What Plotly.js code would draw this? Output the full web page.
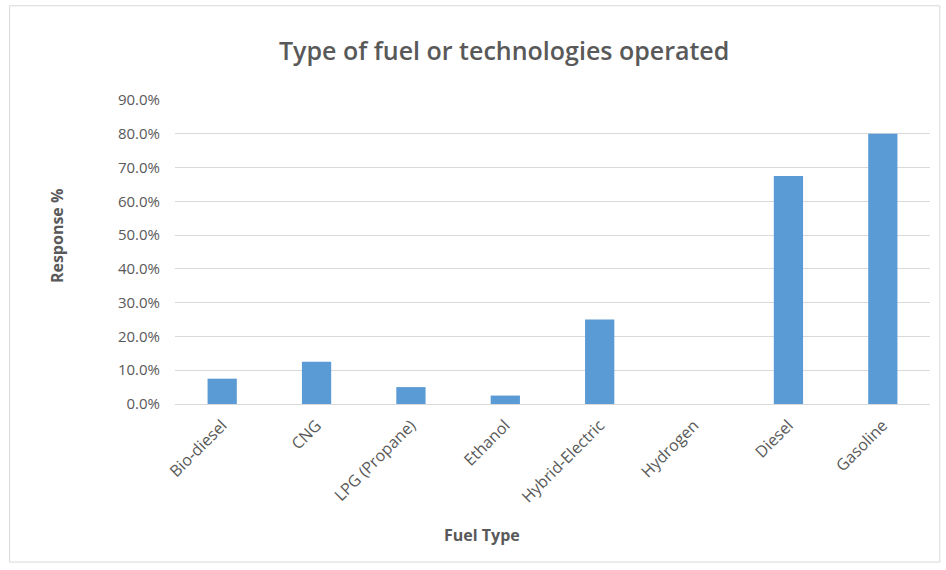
<!DOCTYPE html>
<html>
<head>
<meta charset="utf-8">
<script src="https://cdn.plot.ly/plotly-3.0.1.min.js"></script>
<style>html,body{margin:0;padding:0;background:#fff;}</style>
</head>
<body>
<div id="chart" style="width:946px;height:570px;"></div>
<script>
var categories = ["Bio-diesel", "CNG", "LPG (Propane)", "Ethanol", "Hybrid-Electric", "Hydrogen", "Diesel", "Gasoline"];
var responsePct = [7.5, 12.5, 5.0, 2.5, 25.0, 0.0, 67.5, 80.0];
var yTicks = [0, 10, 20, 30, 40, 50, 60, 70, 80, 90];
var yTickLabels = yTicks.map(function (v) { return v.toFixed(1) + "%"; });

var font = "Open Sans, Lato, sans-serif";
var grey = "#595959";

var data = [{
  type: "bar",
  x: categories,
  y: responsePct,
  marker: { color: "#5b9bd5" },
  hoverinfo: "x+y"
}];

var layout = {
  width: 946,
  height: 570,
  margin: { l: 175, r: 16, t: 100, b: 166 },
  paper_bgcolor: "#ffffff",
  plot_bgcolor: "#ffffff",
  bargap: 0.69,
  showlegend: false,
  font: { family: font, color: grey, size: 13 },
  xaxis: {
    type: "category",
    tickangle: -45,
    tickfont: { family: font, size: 16, color: grey },
    ticklabelstandoff: 8,
    showgrid: false,
    showline: false,
    ticks: "",
    automargin: false
  },
  yaxis: {
    range: [0, 90],
    tickvals: yTicks,
    ticktext: yTickLabels,
    tickfont: { family: font, size: 15, color: grey },
    ticklabelstandoff: 14,
    showgrid: true,
    gridcolor: "#d9d9d9",
    gridwidth: 1,
    zeroline: true,
    zerolinecolor: "#d9d9d9",
    showline: false,
    ticks: "",
    ticklen: 0,
    automargin: false
  },
  annotations: [
    {
      text: "Type of fuel or technologies operated",
      xref: "paper", yref: "paper",
      x: 0.436, y: 1.165, xanchor: "center", yanchor: "middle",
      showarrow: false,
      font: { family: font, size: 25, color: grey, weight: 600 }
    },
    {
      text: "Response %",
      xref: "paper", yref: "paper",
      x: -0.156, y: 0.553, xanchor: "center", yanchor: "middle",
      textangle: -90,
      showarrow: false,
      font: { family: font, size: 16, color: grey, weight: 700 }
    },
    {
      text: "Fuel Type",
      xref: "paper", yref: "paper",
      x: 0.407, y: -0.43, xanchor: "center", yanchor: "middle",
      showarrow: false,
      font: { family: font, size: 16, color: grey, weight: 700 }
    }
  ],
  shapes: [{
    type: "rect",
    xref: "paper", yref: "paper",
    x0: -0.219, x1: 1.013, y0: -0.52, y1: 1.31,
    line: { color: "#d9d9d9", width: 1 },
    fillcolor: "rgba(0,0,0,0)",
    layer: "below"
  }]
};

Plotly.newPlot("chart", data, layout, { displayModeBar: false, staticPlot: true });
</script>
</body>
</html>
